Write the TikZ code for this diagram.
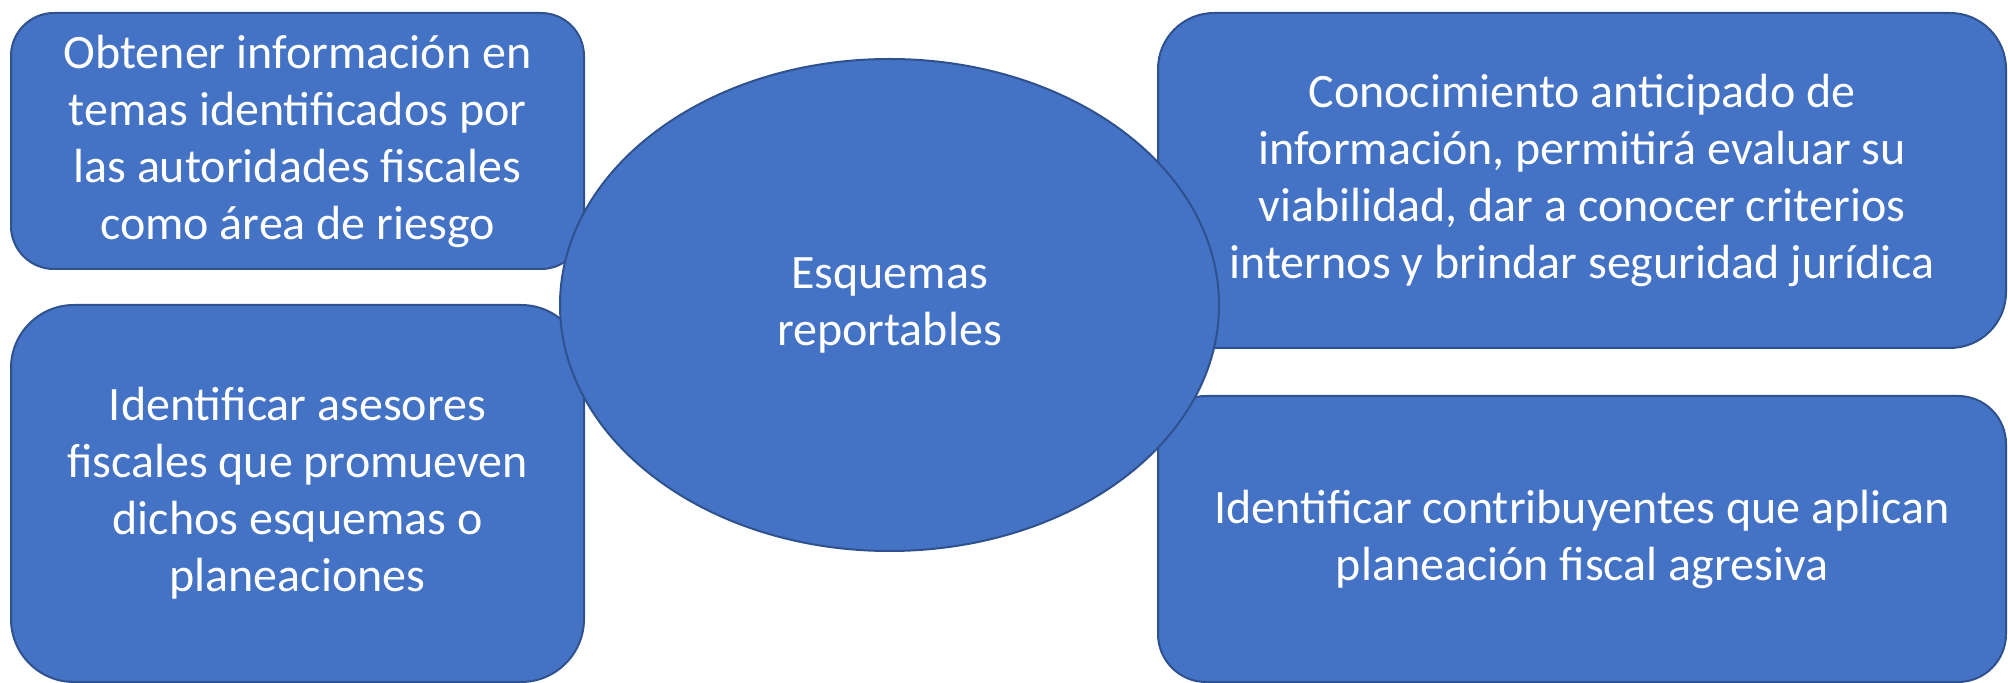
\documentclass[tikz,border=0pt]{standalone}
\usepackage{fontspec}
\setmainfont{Carlito}
\usepackage{xcolor}
\usetikzlibrary{shapes.geometric}
\definecolor{AzulCaja}{HTML}{4472C4}
\definecolor{AzulBorde}{HTML}{2F528F}
\tikzset{
  caja/.style={draw=AzulBorde,fill=AzulCaja,line width=1pt,text=white,align=center,
    inner sep=0pt,font=\fontsize{24pt}{28.5pt}\selectfont},
  elipse/.style={caja,ellipse}
}

\begin{document}
\begin{tikzpicture}[x=0.5pt,y=-0.5pt]
			% \draw[help lines] (0,0) grid[step=100] (2008,683);
			\useasboundingbox (0,0) rectangle (2008,683);
			\coordinate (tl) at (297.5,141);
			\coordinate (bl) at (297.5,493.5);
			\coordinate (tr) at (1582,180.5);
			\coordinate (br) at (1582,539);
			\coordinate (c) at (889.5,305);
			\node[caja,minimum width=286.5pt,minimum height=128pt,rounded corners=21.5pt] (obtener) at (tl)
				{Obtener información en\\temas identificados por\\las autoridades fiscales\\como área de riesgo};
			\node[caja,minimum width=286.5pt,minimum height=188.5pt,rounded corners=31.5pt] (asesores) at (bl)
				{Identificar asesores\\fiscales que promueven\\dichos esquemas o\\planeaciones};
			\node[caja,minimum width=424pt,minimum height=167.5pt,rounded corners=28pt] (conocimiento) at (tr)
				{Conocimiento anticipado de\\información, permitirá evaluar su\\viabilidad, dar a conocer criterios\\internos y brindar seguridad jurídica};
			\node[caja,minimum width=424pt,minimum height=143pt,rounded corners=24pt] (contribuyentes) at (br)
				{Identificar contribuyentes que aplican\\planeación fiscal agresiva};
			\node[elipse,minimum width=329.5pt,minimum height=246pt] (esquemas) at (c)
				{Esquemas\\reportables};
		\end{tikzpicture}
\end{document}
